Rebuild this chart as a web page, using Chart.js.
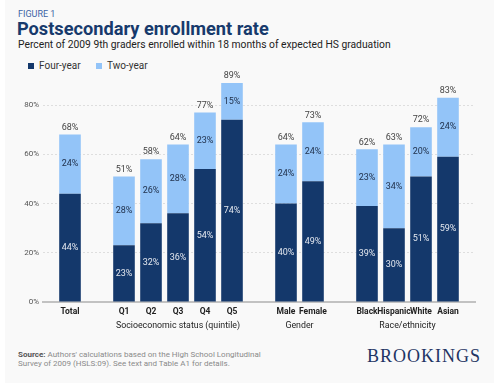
<!DOCTYPE html>
<html lang="en">
<head>
    <meta charset="UTF-8">
    <title>Postsecondary enrollment rate</title>
    <script src="https://cdn.jsdelivr.net/npm/chart.js"></script>
    <style>
        html, body {
            margin: 0;
            padding: 0;
            background: #ffffff;
            font-family: Roboto, Arial, sans-serif;
        }
        .card {
            position: absolute;
            left: 5px;
            top: 0;
            width: 489px;
            height: 383px;
            background: #f9f9f9;
        }
        .fig {
            position: absolute;
            left: 18px;
            top: 9px;
            font-size: 9px;
            color: #3d64a5;
        }
        .title {
            position: absolute;
            left: 17px;
            top: 18px;
            font-size: 18.2px;
            font-weight: bold;
            color: #173a6c;
        }
        .subtitle {
            position: absolute;
            left: 18px;
            top: 38px;
            font-size: 10.3px;
            color: #222;
        }
        .legend {
            position: absolute;
            left: 28px;
            top: 60px;
            font-size: 10px;
            color: #333;
        }
        .legend span.box {
            display: inline-block;
            width: 6px;
            height: 6px;
            margin-right: 5px;
        }
        .legend .item {
            margin-right: 13px;
        }
        .source {
            position: absolute;
            left: 18px;
            top: 350px;
            font-size: 8px;
            line-height: 9px;
            color: #8a8a8a;
        }
        .source b {
            color: #555;
        }
        .brand {
            position: absolute;
            left: 367px;
            top: 346px;
            font-family: "Liberation Serif", "DejaVu Serif", serif;
            font-size: 18px;
            letter-spacing: 1px;
            color: #1f3564;
        }
        #wrap {
            position: absolute;
            left: 18px;
            top: 47px;
            width: 470px;
            height: 293px;
        }
    </style>
</head>
<body>
    <div class="card"></div>
    <div class="fig">FIGURE 1</div>
    <div class="title">Postsecondary enrollment rate</div>
    <div class="subtitle">Percent of 2009 9th graders enrolled within 18 months of expected HS graduation</div>
    <div class="legend">
        <span class="item"><span class="box" style="background:#14386b"></span>Four-year</span>
        <span class="item"><span class="box" style="background:#93c4f8"></span>Two-year</span>
    </div>
    <div id="wrap"><canvas id="enrollChart"></canvas></div>
    <div class="source"><b>Source:</b> Authors' calculations based on the High School Longitudinal<br>Survey of 2009 (HSLS:09). See text and Table A1 for details.</div>
    <div class="brand">BROOKINGS</div>

    <script>
        // blank slots keep the gaps between groups
        const categories = ['', 'Total', '', 'Q1', 'Q2', 'Q3', 'Q4', 'Q5', '', 'Male', 'Female', '', 'Black', 'Hispanic', 'White', 'Asian', ''];
        const fourYear = [null, 44, null, 23, 32, 36, 54, 74, null, 40, 49, null, 39, 30, 51, 59, null];
        const twoYear = [null, 24, null, 28, 26, 28, 23, 15, null, 24, 24, null, 23, 34, 20, 24, null];
        const totals = [null, 68, null, 51, 58, 64, 77, 89, null, 64, 73, null, 62, 63, 72, 83, null];
        const groupNames = ['Socioeconomic status (quintile)', 'Gender', 'Race/ethnicity'];
        const groupCenters = [5, 9.5, 13.5];   // in category slots
        const yTicks = [0, 20, 40, 60, 80];

        const navy = '#14386b';
        const lightBlue = '#93c4f8';

        // group labels sit on a second axis with half-slot steps
        const groupSlots = new Array((categories.length - 1) * 2 + 1).fill('');
        groupCenters.forEach((c, i) => { groupSlots[c * 2] = groupNames[i]; });

        // percentage labels inside the segments and totals on top
        const barLabels = {
            id: 'barLabels',
            afterDatasetsDraw(chart) {
                const ctx = chart.ctx;
                ctx.save();
                ctx.textAlign = 'center';
                ctx.textBaseline = 'middle';
                ctx.font = '9px Roboto';
                chart.data.datasets.forEach((ds, di) => {
                    const meta = chart.getDatasetMeta(di);
                    meta.data.forEach((bar, i) => {
                        const v = ds.data[i];
                        if (v == null) return;
                        ctx.fillStyle = di === 0 ? '#e4e8ef' : '#1e2e48';
                        ctx.fillText(v + '%', bar.x, (bar.y + bar.base) / 2);
                        if (di === 1) {
                            ctx.fillStyle = '#444';
                            ctx.fillText(totals[i] + '%', bar.x, bar.y - 7);
                        }
                    });
                });
                ctx.restore();
            }
        };

        const ctx = document.getElementById('enrollChart').getContext('2d');
        new Chart(ctx, {
            type: 'bar',
            data: {
                labels: categories,
                datasets: [
                    {
                        label: 'Four-year',
                        data: fourYear,
                        backgroundColor: navy,
                        xAxisID: 'x'
                    },
                    {
                        label: 'Two-year',
                        data: twoYear,
                        backgroundColor: lightBlue,
                        xAxisID: 'x'
                    }
                ]
            },
            options: {
                responsive: true,
                maintainAspectRatio: false,
                animation: false,
                layout: {
                    padding: { top: 1, right: 13, left: 0, bottom: 0 }
                },
                categoryPercentage: 1,
                barPercentage: 0.8,
                plugins: {
                    legend: { display: false },
                    tooltip: { enabled: false }
                },
                scales: {
                    x: {
                        stacked: true,
                        offset: false,
                        weight: 0,
                        grid: { display: false, drawTicks: false },
                        border: { color: '#c2c2c2', width: 2 },
                        ticks: {
                            autoSkip: false,
                            maxRotation: 0,
                            padding: 5,
                            color: '#222',
                            font: { family: 'Roboto', size: 8.5, weight: 'bold' }
                        },
                        afterFit(scale) { scale.height = 18; }
                    },
                    x2: {
                        type: 'category',
                        labels: groupSlots,
                        position: 'bottom',
                        weight: 1,
                        offset: false,
                        grid: { display: false, drawTicks: false },
                        border: { display: false },
                        ticks: {
                            autoSkip: false,
                            maxRotation: 0,
                            padding: 1,
                            color: '#222',
                            font: { family: 'Roboto', size: 8.8 }
                        },
                        afterFit(scale) { scale.height = 20; }
                    },
                    y: {
                        stacked: true,
                        min: 0,
                        max: 100,
                        afterBuildTicks(scale) {
                            scale.ticks = yTicks.map(v => ({ value: v }));
                        },
                        afterFit(scale) { scale.width = 25; },
                        border: { display: false, dash: [2, 2] },
                        grid: {
                            color: '#dedede',
                            drawTicks: false
                        },
                        ticks: {
                            padding: 4,
                            color: '#555',
                            font: { family: 'Roboto', size: 8 },
                            callback: (value) => value + '%'
                        }
                    }
                }
            },
            plugins: [barLabels]
        });
    </script>
</body>
</html>
